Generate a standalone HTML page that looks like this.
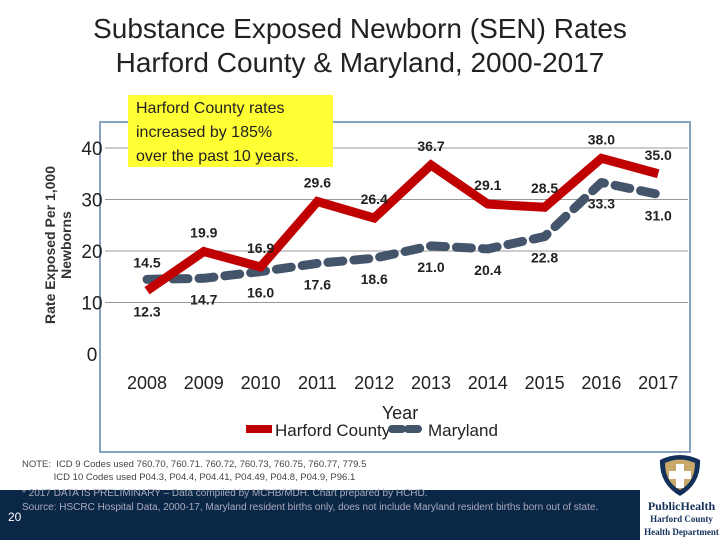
<!DOCTYPE html>
<html><head><meta charset="utf-8"><style>
body{margin:0;width:720px;height:540px;overflow:hidden;background:#fff;font-family:"Liberation Sans",sans-serif;position:relative}
.t{position:absolute}
</style></head><body>
<div class="t" style="left:0;width:720px;top:12px;text-align:center;font-size:28px;line-height:34px;color:#222">Substance Exposed Newborn (SEN) Rates<br>Harford County &amp; Maryland, 2000-2017</div>
<div class="t" style="left:0;top:490px;width:640px;height:50px;background:#0b2748"></div>
<svg class="t" style="left:0;top:0" width="720" height="540">
<rect x="100" y="122" width="590" height="330" fill="none" stroke="#8aa3c0" stroke-width="2"/>
<g id="grid"></g><g id="yt"></g><g id="xt"></g><g id="lines"></g><g id="labs"></g>
<text x="60" y="245" transform="rotate(-90 60 245)" text-anchor="middle" font-size="14" font-weight="bold" fill="#333"><tspan x="60" dy="-5">Rate Exposed Per 1,000</tspan><tspan x="60" dy="16">Newborns</tspan></text>
<text x="400" y="419" text-anchor="middle" font-size="18" font-family="Liberation Sans Narrow,Liberation Sans,sans-serif" fill="#222">Year</text>
<line x1="246" y1="429" x2="272" y2="429" stroke="#c00000" stroke-width="8"/>
<text x="275" y="436" font-size="17" fill="#222">Harford County</text>
<line x1="392" y1="429" x2="418" y2="429" stroke="#44546a" stroke-width="8" stroke-dasharray="10,6" stroke-linecap="round"/>
<text x="428" y="436" font-size="17" fill="#222">Maryland</text>
</svg>
<div class="t" style="left:128px;top:95px;width:205px;height:72px;background:#ffff33;font-size:16px;line-height:24px;padding:2px 0 0 8px;box-sizing:border-box;color:#222;white-space:nowrap">Harford County rates<br>increased by 185%<br>over the past 10 years.</div>
<div class="t" style="left:22px;top:458px;font-size:9.5px;color:#444;line-height:13px">NOTE:&nbsp; ICD 9 Codes used 760.70, 760.71. 760.72, 760.73, 760.75, 760.77, 779.5<br>&nbsp;&nbsp;&nbsp;&nbsp;&nbsp;&nbsp;&nbsp;&nbsp;&nbsp;&nbsp;&nbsp; ICD 10 Codes used P04.3, P04.4, P04.41, P04.49, P04.8, P04.9, P96.1</div>
<div class="t" style="left:22px;top:487px;font-size:10px;color:#aab;line-height:14px">* 2017 DATA IS PRELIMINARY – Data compiled by MCHB/MDH. Chart prepared by HCHD.<br>Source: HSCRC Hospital Data, 2000-17, Maryland resident births only, does not include Maryland resident births born out of state.</div>
<div class="t" style="left:8px;top:510px;font-size:12px;color:#fff">20</div>
<svg class="t" style="left:655px;top:452px" width="50" height="46"><path d="M5 8 Q25 -2 45 8 Q46 32 25 44 Q4 32 5 8Z" fill="#12305a"/><path d="M10 11 Q25 4 40 11 Q40 30 25 38 Q10 30 10 11Z" fill="#c8a96a"/><path d="M21 12h8v7h7v8h-7v9h-8v-9h-7v-8h7z" fill="#fff"/></svg>
<div class="t" style="left:643px;top:500px;width:77px;text-align:center;font-family:'Liberation Serif',serif;color:#12305a;font-weight:bold;font-size:12px;line-height:12px">PublicHealth<br><span style="font-size:9px">Harford County<br>Health Department</span></div>
<script>
const years=["2008","2009","2010","2011","2012","2013","2014","2015","2016","2017"];
const harford=[12.3,19.9,16.9,29.6,26.4,36.7,29.1,28.5,38.0,35.0];
const maryland=[14.5,14.7,16.0,17.6,18.6,21.0,20.4,22.8,33.3,31.0];
const yTicks=[0,10,20,30,40];
const NS="http://www.w3.org/2000/svg";
const X=i=>147+i*56.8, Y=v=>354-v*5.15;
function mk(p,tag,a,txt){const e=document.createElementNS(NS,tag);for(const k in a)e.setAttribute(k,a[k]);if(txt!=null)e.textContent=txt;document.getElementById(p).appendChild(e);return e;}
yTicks.forEach(v=>{
 if(v>0){const g=mk('grid','line',{x1:105,x2:688,y1:Y(v),y2:Y(v),stroke:'#999','stroke-width':1});
 
 }
 const t=mk('yt','text',{x:92,y:Y(v)+7,'text-anchor':'middle','font-size':19,fill:'#222','font-family':'Liberation Sans Narrow,Liberation Sans,sans-serif'},v);
 
 
});
years.forEach((y,i)=>{const t=mk('xt','text',{x:X(i),y:389,'text-anchor':'middle','font-size':18,fill:'#222','font-family':'Liberation Sans Narrow,Liberation Sans,sans-serif'},y);
 
 });
const mp=maryland.map((v,i)=>X(i)+','+Y(v)).join(' ');
const ml=mk('lines','polyline',{points:mp,fill:'none',stroke:'#44546a','stroke-width':9,'stroke-dasharray':'15,11','stroke-linecap':'round','stroke-linejoin':'round'});


const hp=harford.map((v,i)=>X(i)+','+Y(v)).join(' ');
const hl=mk('lines','polyline',{points:hp,fill:'none',stroke:'#c00000','stroke-width':9,'stroke-linejoin':'miter'});


const lf={'text-anchor':'middle','font-size':14,'font-weight':'bold',fill:'#222','font-family':'Liberation Sans Narrow,Liberation Sans,sans-serif'};
harford.forEach((v,i)=>{const dy=i===0?26:-14;
 const t=mk('labs','text',Object.assign({x:X(i),y:Y(v)+dy},lf),v.toFixed(1));
 
 });
maryland.forEach((v,i)=>{const dy=i===0?-12:26;
 const t=mk('labs','text',Object.assign({x:X(i),y:Y(v)+dy},lf),v.toFixed(1));
 
 });
</script>
</body></html>
